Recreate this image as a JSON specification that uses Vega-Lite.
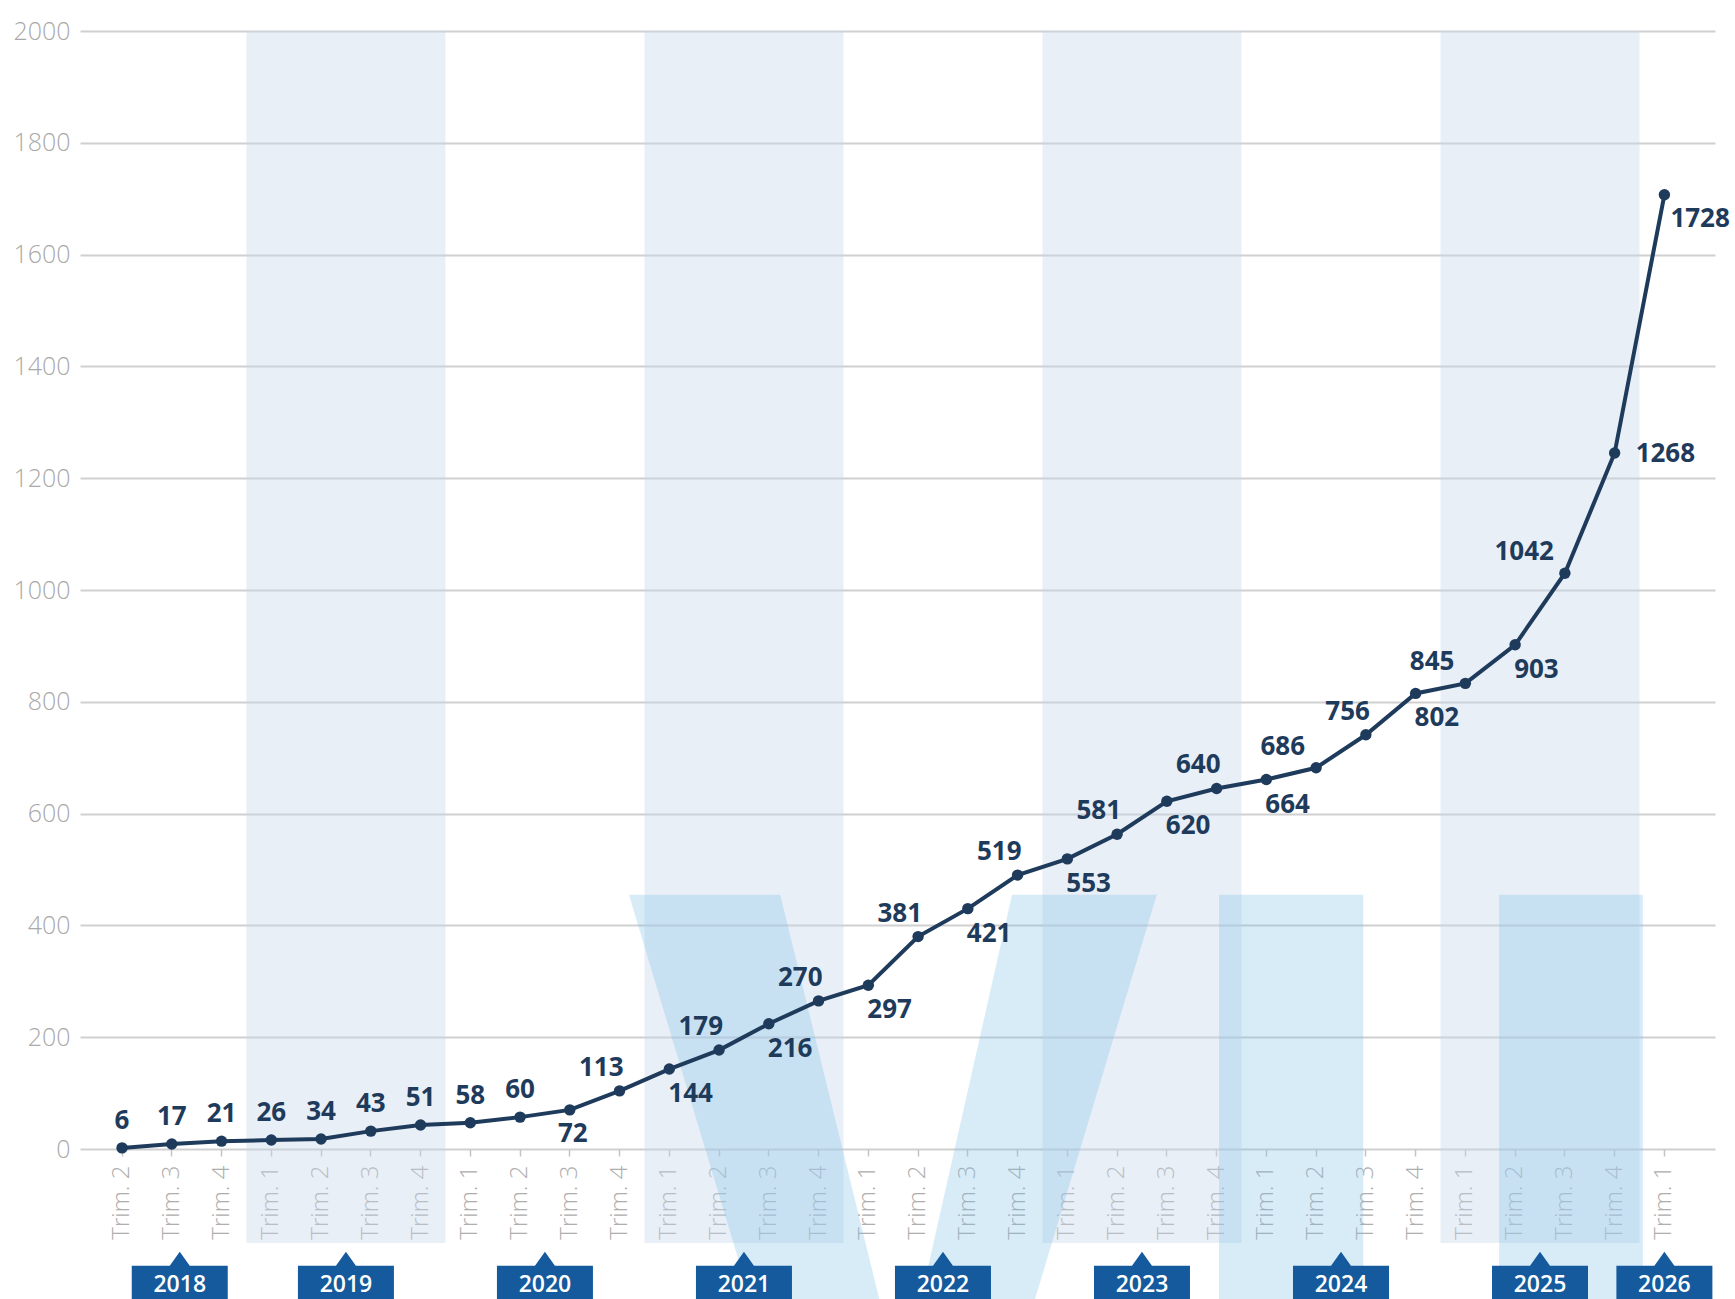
{
  "$schema": "https://vega.github.io/schema/vega-lite/v6.json",
  "width": 1635,
  "height": 1118,
  "autosize": {"type": "none"},
  "padding": {"left": 80, "top": 31, "right": 20, "bottom": 150},
  "background": "white",
  "config": {
    "view": {"stroke": null},
    "font": "Open Sans",
    "axisY": {"grid": true, "gridColor": "#d0d0d0", "gridWidth": 2, "domain": false, "ticks": false, "labelColor": "#a9a9a9", "labelFont": "Open Sans", "labelFontWeight": 300, "labelFontSize": 25, "labelPadding": 10, "format": "d"},
    "axisX": {"grid": false, "domain": false, "ticks": true, "tickColor": "#c4c4c4", "tickSize": 7, "tickWidth": 1.5, "labelAngle": -90, "labelFont": "Open Sans", "labelFontWeight": 300, "labelFontSize": 24, "labelColor": "#aeaeae", "labelPadding": 9, "labelOverlap": false, "labelBound": false}
  },
  "datasets": {
    "main": [
      {"key": "2018-2", "year": 2018, "q": 2, "value": 2, "label": 6},
      {"key": "2018-3", "year": 2018, "q": 3, "value": 9, "label": 17},
      {"key": "2018-4", "year": 2018, "q": 4, "value": 14, "label": 21},
      {"key": "2019-1", "year": 2019, "q": 1, "value": 16, "label": 26},
      {"key": "2019-2", "year": 2019, "q": 2, "value": 18, "label": 34},
      {"key": "2019-3", "year": 2019, "q": 3, "value": 32, "label": 43},
      {"key": "2019-4", "year": 2019, "q": 4, "value": 43, "label": 51},
      {"key": "2020-1", "year": 2020, "q": 1, "value": 47, "label": 58},
      {"key": "2020-2", "year": 2020, "q": 2, "value": 57, "label": 60},
      {"key": "2020-3", "year": 2020, "q": 3, "value": 70, "label": 72},
      {"key": "2020-4", "year": 2020, "q": 4, "value": 104, "label": 113},
      {"key": "2021-1", "year": 2021, "q": 1, "value": 143, "label": 144},
      {"key": "2021-2", "year": 2021, "q": 2, "value": 177, "label": 179},
      {"key": "2021-3", "year": 2021, "q": 3, "value": 224, "label": 216},
      {"key": "2021-4", "year": 2021, "q": 4, "value": 265, "label": 270},
      {"key": "2022-1", "year": 2022, "q": 1, "value": 293, "label": 297},
      {"key": "2022-2", "year": 2022, "q": 2, "value": 380, "label": 381},
      {"key": "2022-3", "year": 2022, "q": 3, "value": 430, "label": 421},
      {"key": "2022-4", "year": 2022, "q": 4, "value": 490, "label": 519},
      {"key": "2023-1", "year": 2023, "q": 1, "value": 519, "label": 553},
      {"key": "2023-2", "year": 2023, "q": 2, "value": 563, "label": 581},
      {"key": "2023-3", "year": 2023, "q": 3, "value": 622, "label": 620},
      {"key": "2023-4", "year": 2023, "q": 4, "value": 645, "label": 640},
      {"key": "2024-1", "year": 2024, "q": 1, "value": 661, "label": 664},
      {"key": "2024-2", "year": 2024, "q": 2, "value": 682, "label": 686},
      {"key": "2024-3", "year": 2024, "q": 3, "value": 741, "label": 756},
      {"key": "2024-4", "year": 2024, "q": 4, "value": 815, "label": 802},
      {"key": "2025-1", "year": 2025, "q": 1, "value": 833, "label": 845},
      {"key": "2025-2", "year": 2025, "q": 2, "value": 902, "label": 903},
      {"key": "2025-3", "year": 2025, "q": 3, "value": 1030, "label": 1042},
      {"key": "2025-4", "year": 2025, "q": 4, "value": 1245, "label": 1268},
      {"key": "2026-1", "year": 2026, "q": 1, "value": 1707, "label": 1728}
    ],
    "bands": [
      {"start": "2019-1", "end": "2019-4"},
      {"start": "2021-1", "end": "2021-4"},
      {"start": "2023-1", "end": "2023-4"},
      {"start": "2025-1", "end": "2025-4"}
    ],
    "logo": [
      {"part": "a", "y": 455, "x": 10.19, "x2": 13.23},
      {"part": "a", "y": -275, "x": 12.65, "x2": 15.24},
      {"part": "b", "y": 455, "x": 17.89, "x2": 20.80},
      {"part": "b", "y": -275, "x": 16.04, "x2": 18.33},
      {"part": "c", "y": 455, "x": 22.05, "x2": 24.95},
      {"part": "c", "y": -275, "x": 22.05, "x2": 24.95},
      {"part": "d", "y": 455, "x": 27.68, "x2": 30.57},
      {"part": "d", "y": -275, "x": 27.68, "x2": 30.57}
    ]
  },
  "resolve": {"scale": {"x": "independent"}},
  "layer": [
    {
      "data": {"name": "bands"},
      "mark": {"type": "rect", "fill": "#c9d6ea", "opacity": 0.4},
      "encoding": {
        "x": {"field": "start", "type": "nominal", "bandPosition": 0, "title": null, "axis": null,
              "scale": {"type": "band", "domain": ["2018-2","2018-3","2018-4","2019-1","2019-2","2019-3","2019-4","2020-1","2020-2","2020-3","2020-4","2021-1","2021-2","2021-3","2021-4","2022-1","2022-2","2022-3","2022-4","2023-1","2023-2","2023-3","2023-4","2024-1","2024-2","2024-3","2024-4","2025-1","2025-2","2025-3","2025-4","2026-1"], "paddingInner": 0, "paddingOuter": 0.431, "align": 0.4}},
        "x2": {"field": "end", "bandPosition": 1},
        "y": {"datum": 2000, "type": "quantitative", "title": null, "scale": {"domain": [0, 2000], "nice": false, "zero": false}},
        "y2": {"datum": -168}
      }
    },
    {
      "data": {"name": "logo"},
      "mark": {"type": "area", "orient": "horizontal", "color": "#7fbfe8", "opacity": 0.3},
      "encoding": {
        "y": {"field": "y", "type": "quantitative", "title": null, "scale": {"domain": [0, 2000], "nice": false, "zero": false}},
        "x": {"field": "x", "type": "quantitative", "stack": null, "axis": null, "title": null, "scale": {"domain": [-0.844, 32.02], "nice": false, "zero": false}},
        "x2": {"field": "x2"},
        "detail": {"field": "part", "type": "nominal"}
      }
    },
    {
      "data": {"name": "main"},
      "layer": [
        {
          "mark": {"type": "line", "color": "#1f3b5c", "strokeWidth": 4},
          "encoding": {
            "x": {"field": "key", "type": "nominal", "title": null,
                  "axis": {"labelExpr": "'Trim. ' + slice(datum.value, 5)"},
                  "scale": {"type": "band", "domain": ["2018-2","2018-3","2018-4","2019-1","2019-2","2019-3","2019-4","2020-1","2020-2","2020-3","2020-4","2021-1","2021-2","2021-3","2021-4","2022-1","2022-2","2022-3","2022-4","2023-1","2023-2","2023-3","2023-4","2024-1","2024-2","2024-3","2024-4","2025-1","2025-2","2025-3","2025-4","2026-1"], "paddingInner": 0, "paddingOuter": 0.431, "align": 0.4}},
            "y": {"field": "value", "type": "quantitative", "title": null,
                  "axis": {"values": [0, 200, 400, 600, 800, 1000, 1200, 1400, 1600, 1800, 2000]},
                  "scale": {"domain": [0, 2000], "nice": false, "zero": false}}
          }
        },
        {
          "mark": {"type": "point", "filled": true, "color": "#1f3b5c", "opacity": 1, "size": 130},
          "encoding": {
            "x": {"field": "key", "type": "nominal", "title": null},
            "y": {"field": "value", "type": "quantitative", "title": null}
          }
        },
        {
          "transform": [{"filter": {"field": "label", "oneOf": [6, 17, 21, 26, 34, 43, 51, 58, 60]}}],
          "mark": {"type": "text", "font": "Open Sans", "fontWeight": 700, "fontSize": 26, "color": "#1f3b5c", "align": "center", "baseline": "middle", "dy": -27},
          "encoding": {
            "x": {"field": "key", "type": "nominal", "title": null},
            "y": {"field": "value", "type": "quantitative", "title": null},
            "text": {"field": "label", "type": "nominal"}
          }
        },
        {
          "transform": [{"filter": {"field": "label", "oneOf": [72]}}],
          "mark": {"type": "text", "font": "Open Sans", "fontWeight": 700, "fontSize": 26, "color": "#1f3b5c", "align": "center", "baseline": "middle", "dx": 3, "dy": 24},
          "encoding": {
            "x": {"field": "key", "type": "nominal", "title": null},
            "y": {"field": "value", "type": "quantitative", "title": null},
            "text": {"field": "label", "type": "nominal"}
          }
        },
        {
          "transform": [{"filter": {"field": "label", "oneOf": [144, 216, 297, 421, 553, 620, 664, 802, 903]}}],
          "mark": {"type": "text", "font": "Open Sans", "fontWeight": 700, "fontSize": 26, "color": "#1f3b5c", "align": "left", "baseline": "middle", "dx": -1, "dy": 25},
          "encoding": {
            "x": {"field": "key", "type": "nominal", "title": null},
            "y": {"field": "value", "type": "quantitative", "title": null},
            "text": {"field": "label", "type": "nominal"}
          }
        },
        {
          "transform": [{"filter": {"field": "label", "oneOf": [113, 179, 270, 381, 519, 581, 640, 756]}}],
          "mark": {"type": "text", "font": "Open Sans", "fontWeight": 700, "fontSize": 26, "color": "#1f3b5c", "align": "right", "baseline": "middle", "dx": 4, "dy": -23},
          "encoding": {
            "x": {"field": "key", "type": "nominal", "title": null},
            "y": {"field": "value", "type": "quantitative", "title": null},
            "text": {"field": "label", "type": "nominal"}
          }
        },
        {
          "transform": [{"filter": {"field": "label", "oneOf": [686, 845, 1042]}}],
          "mark": {"type": "text", "font": "Open Sans", "fontWeight": 700, "fontSize": 26, "color": "#1f3b5c", "align": "right", "baseline": "middle", "dx": -11, "dy": -21},
          "encoding": {
            "x": {"field": "key", "type": "nominal", "title": null},
            "y": {"field": "value", "type": "quantitative", "title": null},
            "text": {"field": "label", "type": "nominal"}
          }
        },
        {
          "transform": [{"filter": {"field": "label", "oneOf": [1268]}}],
          "mark": {"type": "text", "font": "Open Sans", "fontWeight": 700, "fontSize": 26, "color": "#1f3b5c", "align": "left", "baseline": "middle", "dx": 21, "dy": 1},
          "encoding": {
            "x": {"field": "key", "type": "nominal", "title": null},
            "y": {"field": "value", "type": "quantitative", "title": null},
            "text": {"field": "label", "type": "nominal"}
          }
        },
        {
          "transform": [{"filter": {"field": "label", "oneOf": [1728]}}],
          "mark": {"type": "text", "font": "Open Sans", "fontWeight": 700, "fontSize": 26, "color": "#1f3b5c", "align": "left", "baseline": "middle", "dx": 6, "dy": 24},
          "encoding": {
            "x": {"field": "key", "type": "nominal", "title": null},
            "y": {"field": "value", "type": "quantitative", "title": null},
            "text": {"field": "label", "type": "nominal"}
          }
        },
        {
          "transform": [{"filter": "datum.q == 3 && datum.year > 2018"}],
          "layer": [
            {"mark": {"type": "point", "shape": "M-1,-0.396L-0.208,-0.396L0,-0.6875L0.208,-0.396L1,-0.396L1,0.7L-1,0.7Z", "size": 9216, "filled": true, "fill": "#155a9d", "opacity": 1, "strokeWidth": 0},
             "encoding": {"x": {"field": "key", "type": "nominal", "bandPosition": 0, "title": null}, "y": {"datum": -243, "type": "quantitative", "title": null}}},
            {"mark": {"type": "text", "font": "Open Sans", "fontWeight": 600, "fontSize": 23, "color": "white", "align": "center", "baseline": "middle"},
             "encoding": {"x": {"field": "key", "type": "nominal", "bandPosition": 0, "title": null}, "y": {"datum": -243, "type": "quantitative", "title": null}, "text": {"field": "year", "type": "nominal"}}}
          ]
        },
        {
          "transform": [{"filter": "datum.q == 3 && datum.year == 2018"}],
          "layer": [
            {"mark": {"type": "point", "shape": "M-1,-0.396L-0.208,-0.396L0,-0.6875L0.208,-0.396L1,-0.396L1,0.7L-1,0.7Z", "size": 9216, "filled": true, "fill": "#155a9d", "opacity": 1, "strokeWidth": 0},
             "encoding": {"x": {"field": "key", "type": "nominal", "bandPosition": 0.66, "title": null}, "y": {"datum": -243, "type": "quantitative", "title": null}}},
            {"mark": {"type": "text", "font": "Open Sans", "fontWeight": 600, "fontSize": 23, "color": "white", "align": "center", "baseline": "middle"},
             "encoding": {"x": {"field": "key", "type": "nominal", "bandPosition": 0.66, "title": null}, "y": {"datum": -243, "type": "quantitative", "title": null}, "text": {"field": "year", "type": "nominal"}}}
          ]
        },
        {
          "transform": [{"filter": "datum.year == 2026"}],
          "layer": [
            {"mark": {"type": "point", "shape": "M-1,-0.396L-0.208,-0.396L0,-0.6875L0.208,-0.396L1,-0.396L1,0.7L-1,0.7Z", "size": 9216, "filled": true, "fill": "#155a9d", "opacity": 1, "strokeWidth": 0},
             "encoding": {"x": {"field": "key", "type": "nominal", "title": null}, "y": {"datum": -243, "type": "quantitative", "title": null}}},
            {"mark": {"type": "text", "font": "Open Sans", "fontWeight": 600, "fontSize": 23, "color": "white", "align": "center", "baseline": "middle"},
             "encoding": {"x": {"field": "key", "type": "nominal", "title": null}, "y": {"datum": -243, "type": "quantitative", "title": null}, "text": {"field": "year", "type": "nominal"}}}
          ]
        }
      ]
    }
  ]
}
